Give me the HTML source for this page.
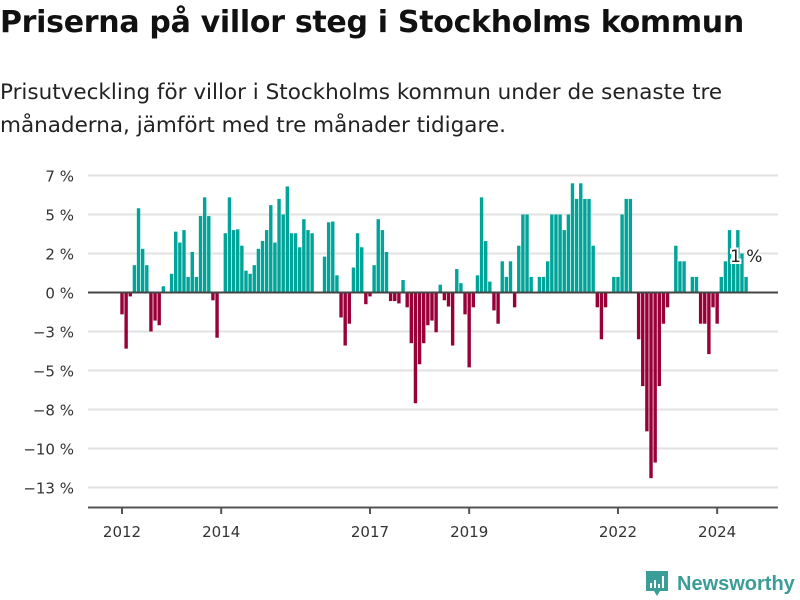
<!DOCTYPE html>
<html><head><meta charset="utf-8"><style>
body{margin:0;background:#fff;width:800px;height:600px;overflow:hidden;font-family:"DejaVu Sans","Liberation Sans",sans-serif;color:#111}
h1{position:absolute;left:0;top:5px;margin:0;font-size:30px;font-weight:bold;letter-spacing:-0.3px}
p{position:absolute;left:0;top:76px;margin:0;font-size:21.5px;line-height:33px;color:#222;width:760px}
svg{position:absolute;left:0;top:0}
</style></head><body>
<h1>Priserna på villor steg i Stockholms kommun</h1>
<p>Prisutveckling för villor i Stockholms kommun under de senaste tre månaderna, jämfört med tre månader tidigare.</p>
<svg id="c" width="800" height="600"></svg>
<script>
const values=[-1.4,-3.6,-0.25,1.75,5.4,2.8,1.75,-2.5,-1.8,-2.1,0.4,0,
1.2,3.9,3.2,4.0,1.0,2.6,1.0,4.9,6.1,4.9,-0.5,-2.9,
0,3.8,6.1,4.0,4.05,3.0,1.4,1.2,1.75,2.8,3.3,4.0,
5.6,3.2,6.0,5.0,6.8,3.8,3.8,2.9,4.7,4.0,3.8,0,
0,2.3,4.5,4.55,1.1,-1.6,-3.4,-2.0,1.6,3.8,2.9,-0.75,
-0.25,1.75,4.7,4.0,2.6,-0.55,-0.55,-0.7,0.8,-0.95,-3.25,-7.1,
-4.6,-3.25,-2.1,-1.8,-2.55,0.5,-0.5,-0.9,-3.4,1.5,0.6,-1.4,
-4.8,-0.95,1.1,6.1,3.3,0.7,-1.15,-2.0,2.0,1.0,2.0,-0.95,
3.0,5.0,5.0,1.0,0,1.0,1.0,2.0,5.0,5.0,5.0,4.0,
5.0,7.0,6.0,7.0,6.0,6.0,3.0,-0.95,-3.0,-0.95,0,1.0,
1.0,5.0,6.0,6.0,0,-3.0,-6.0,-8.9,-11.9,-10.9,-6.0,-2.0,
-0.95,0,3.0,2.0,2.0,0,1.0,1.0,-2.0,-2.0,-3.95,-0.95,
-2.0,1.0,2.0,4.0,2.0,4.0,2.5,1.0];
const tickVals=[7.5,5,2.5,0,-2.5,-5,-7.5,-10,-12.5];
const tickLabels=["7 %","5 %","2 %","0 %","−3 %","−5 %","−8 %","−10 %","−13 %"];
const yearTicks=[2012,2014,2017,2019,2022,2024];
const startYear=2012;
const lastLabel="1 %";
const NS="http://www.w3.org/2000/svg",svg=document.getElementById('c');
const y=v=>292.5-v*15.6;
const x=i=>122+i*4.133;
function mk(t,a){const e=document.createElementNS(NS,t);for(const k in a)e.setAttribute(k,a[k]);svg.appendChild(e);return e;}
tickVals.forEach((v,k)=>{
 if(v!==0){const g=mk('line',{x1:88,x2:778,y1:y(v),y2:y(v),stroke:'#e2e2e2','stroke-width':2});
 
 }
 const t=mk('text',{x:74,y:y(v)+6,'text-anchor':'end','font-size':15,fill:'#333'});t.textContent=tickLabels[k];
 
 
});
values.forEach((v,i)=>{
 if(v===0)return;
 const r=mk('rect',{x:x(i)-1.7,width:3.4,y:Math.min(y(v),y(0)),height:Math.abs(y(v)-y(0)),fill:v>0?'#00a499':'#990038'});
 
 
});
const z=mk('line',{x1:88,x2:778,y1:y(0),y2:y(0),stroke:'#444','stroke-width':2});


const ax=mk('line',{x1:88,x2:778,y1:507.5,y2:507.5,stroke:'#555','stroke-width':2});


yearTicks.forEach(yr=>{
 const xx=x((yr-startYear)*12);
 const tk=mk('line',{x1:xx,x2:xx,y1:507,y2:514,stroke:'#555','stroke-width':2});
 
 
 const t=mk('text',{x:xx,y:537,'text-anchor':'middle','font-size':15,fill:'#333'});t.textContent=yr;
 
 
});
const li=values.length-1;
const lt=mk('text',{x:x(li)-16,y:y(values[li])-15,'font-size':17,fill:'#222',stroke:'#fff','stroke-width':4,'paint-order':'stroke'});
lt.textContent=lastLabel;


</script>
<svg width="800" height="600" style="pointer-events:none">
<path d="M646 571h22v20h-8l-3 5-3-5h-8z" fill="#3a9d97"/>
<rect x="650" y="583" width="2" height="5" fill="#fff"/><rect x="654" y="580" width="2" height="8" fill="#fff"/><rect x="658" y="584" width="2" height="4" fill="#fff"/><rect x="662" y="576" width="2" height="12" fill="#fff"/>
<text x="677" y="590" font-size="20" font-weight="bold" fill="#3a9d97" font-family="Liberation Sans,sans-serif">Newsworthy</text>
</svg>
</body></html>
